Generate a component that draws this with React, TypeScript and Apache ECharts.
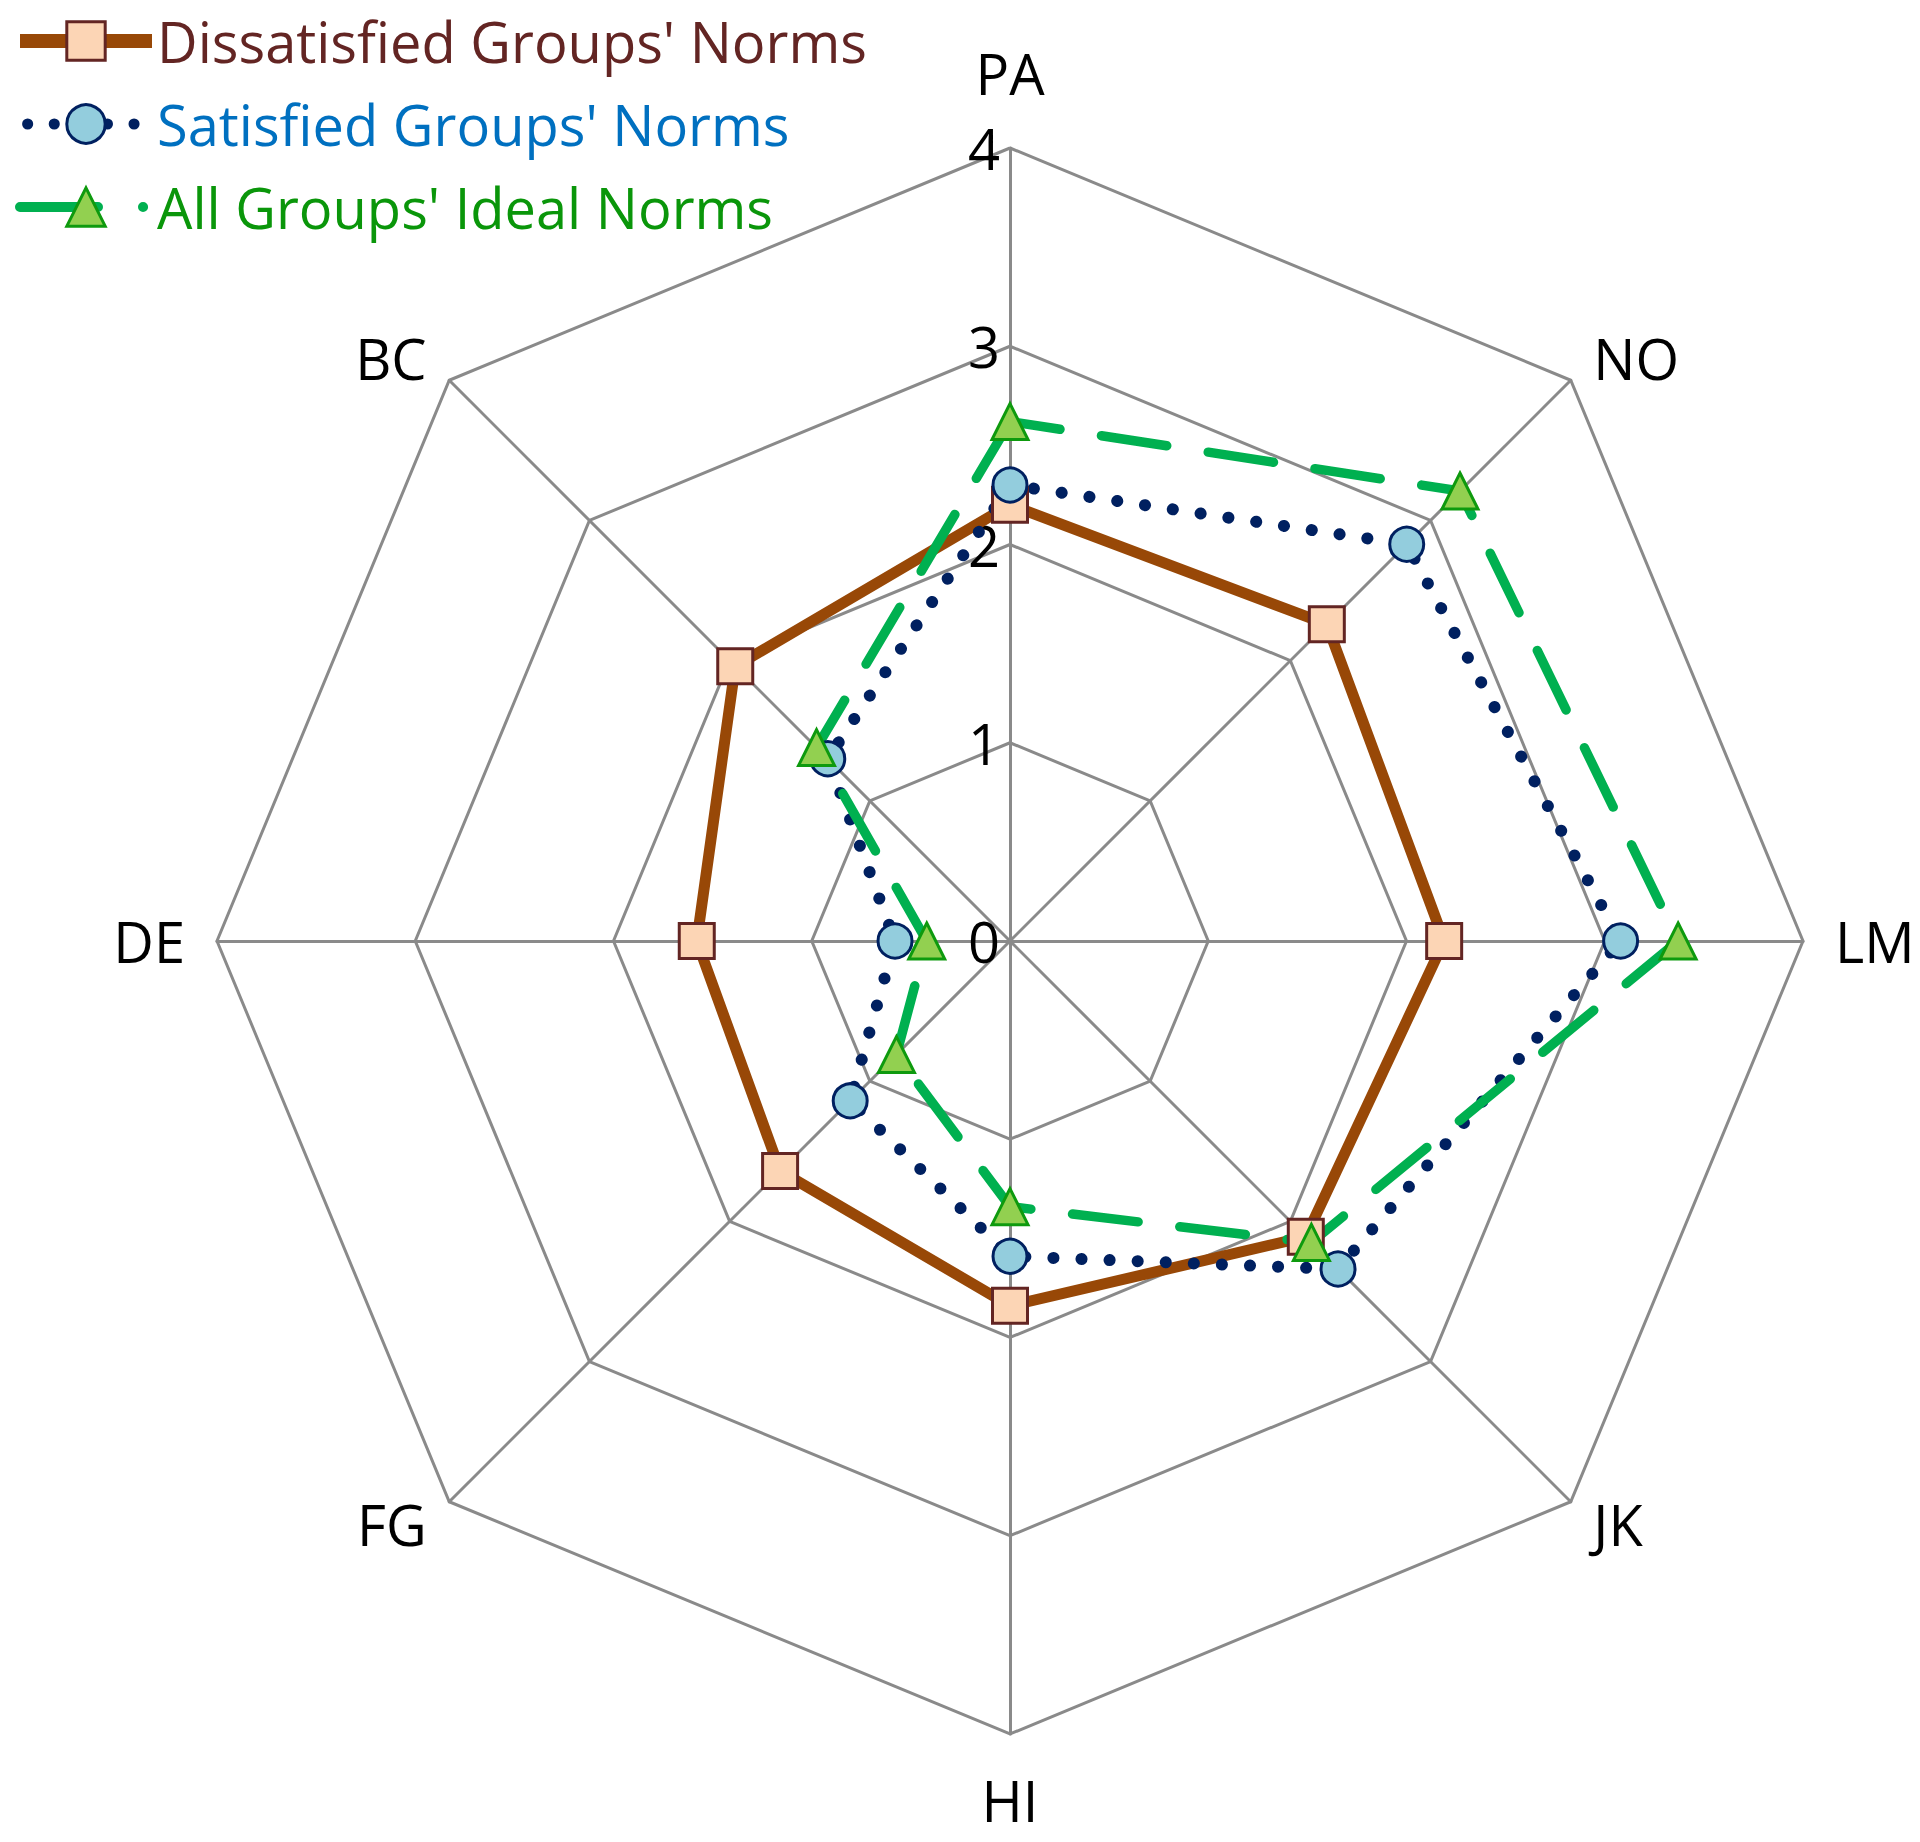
import React, { useEffect, useRef } from "react";
import * as echarts from "echarts";

// ---- data (indicators listed counter-clockwise from the top, as ECharts radar lays them out)
const INDICATORS = ["PA", "BC", "DE", "FG", "HI", "JK", "LM", "NO"];
const AXIS_MIN = 0;
const AXIS_MAX = 4;
const SPLIT_COUNT = 4;
const SERIES_NAMES = [
  "Dissatisfied Groups' Norms",
  "Satisfied Groups' Norms",
  "All Groups' Ideal Norms",
];
const dissatisfied = [2.2, 1.96, 1.58, 1.64, 1.84, 2.11, 2.19, 2.26];
const satisfied = [2.3, 1.3, 0.58, 1.14, 1.59, 2.34, 3.08, 2.83];
const ideal = [2.62, 1.38, 0.42, 0.81, 1.34, 2.15, 3.37, 3.21];
const SERIES_VALUES = [dissatisfied, satisfied, ideal];

const FONT = "'Open Sans', 'Noto Sans', sans-serif";
const GRID_COLOR = "#8a8a8a";

const STYLES = [
  {
    line: "#984807",
    width: 11,
    dash: "solid" as any,
    cap: "butt",
    symbol: "rect",
    size: 35,
    fill: "#FCD5B5",
    border: "#632523",
    text: "#632523",
    legendWidth: 14,
    legendDash: "solid" as any,
    legendOffset: 0,
  },
  {
    line: "#002060",
    width: 12,
    dash: [0.1, 28] as any,
    cap: "round",
    symbol: "circle",
    size: 34,
    fill: "#93CDDD",
    border: "#002060",
    text: "#0070C0",
    legendWidth: 11,
    legendDash: [0.1, 26.5] as any,
    legendOffset: 18.5,
  },
  {
    line: "#00B050",
    width: 9.5,
    dash: [66, 42] as any,
    cap: "round",
    symbol: "triangle",
    size: 36,
    fill: "#92D050",
    border: "#0E9A0E",
    text: "#0A960A",
    legendWidth: 10,
    legendDash: [78, 45, 0.1, 100] as any,
    legendOffset: 0,
  },
];

function buildOption() {
  return {
    animation: false,
    backgroundColor: "#ffffff",
    grid: { show: false, left: 0, top: 0, width: 10, height: 10 },
    xAxis: { type: "category", show: false, data: [] },
    yAxis: { type: "value", show: false },
    legend: {
      orient: "vertical",
      left: 13,
      top: 13,
      padding: 0,
      itemGap: 27,
      itemWidth: 132,
      itemHeight: 48,
      selectedMode: false,
      textStyle: { fontSize: 56, fontFamily: FONT },
      data: SERIES_NAMES.map((name, i) => ({
        name,
        textStyle: { color: STYLES[i].text, fontSize: 56, fontFamily: FONT },
        itemStyle: {
          color: STYLES[i].fill,
          borderColor: STYLES[i].border,
          borderWidth: 3,
        },
        lineStyle: {
          color: STYLES[i].line,
          width: STYLES[i].legendWidth,
          type: STYLES[i].legendDash,
          dashOffset: STYLES[i].legendOffset,
          cap: STYLES[i].cap,
        },
      })),
    },
    radar: {
      center: [1010, 941],
      radius: 793,
      startAngle: 90,
      shape: "polygon",
      splitNumber: SPLIT_COUNT,
      nameGap: 32,
      axisName: {
        color: "#000000",
        fontSize: 56,
        fontFamily: FONT,
        padding: [6, 0, 15, 0],
      },
      indicator: INDICATORS.map((name, i) => ({
        name,
        min: AXIS_MIN,
        max: AXIS_MAX,
        ...(i === 0
          ? {
              axisLabel: {
                show: true,
                color: "#000000",
                fontSize: 56,
                fontFamily: FONT,
                margin: 10,
                padding: [20, 0, 0, 0],
              },
            }
          : {}),
      })),
      axisLabel: { show: false },
      axisTick: { show: false },
      axisLine: { lineStyle: { color: GRID_COLOR, width: 3 } },
      splitLine: { lineStyle: { color: GRID_COLOR, width: 3 } },
      splitArea: { show: false },
    },
    series: [
      ...SERIES_NAMES.map((name, i) => ({
        type: "line",
        name,
        xAxisIndex: 0,
        yAxisIndex: 0,
        data: [],
        symbol: STYLES[i].symbol,
        itemStyle: {
          color: STYLES[i].fill,
          borderColor: STYLES[i].border,
          borderWidth: 3,
        },
        lineStyle: {
          color: STYLES[i].line,
          width: STYLES[i].legendWidth,
          type: STYLES[i].legendDash,
          cap: STYLES[i].cap,
        },
      })),
      {
        type: "radar",
        name: "norms",
        data: SERIES_VALUES.map((values, i) => ({
          name: SERIES_NAMES[i],
          value: values,
          symbol: STYLES[i].symbol,
          symbolSize: STYLES[i].size,
          itemStyle: {
            color: STYLES[i].fill,
            borderColor: STYLES[i].border,
            borderWidth: 3,
          },
          lineStyle: {
            color: STYLES[i].line,
            width: STYLES[i].width,
            type: STYLES[i].dash,
            cap: STYLES[i].cap,
            join: "round",
          },
        })),
      },
    ],
  };
}

export default function App() {
  const ref = useRef<HTMLDivElement>(null);
  useEffect(() => {
    document.body.style.margin = "0";
    const chart = echarts.init(ref.current as HTMLDivElement, undefined, {
      renderer: "svg",
    });
    chart.setOption(buildOption() as any);
    return () => {
      chart.dispose();
    };
  }, []);
  return (
    <div
      ref={ref}
      style={{ width: 1920, height: 1842, background: "#ffffff" }}
    />
  );
}
